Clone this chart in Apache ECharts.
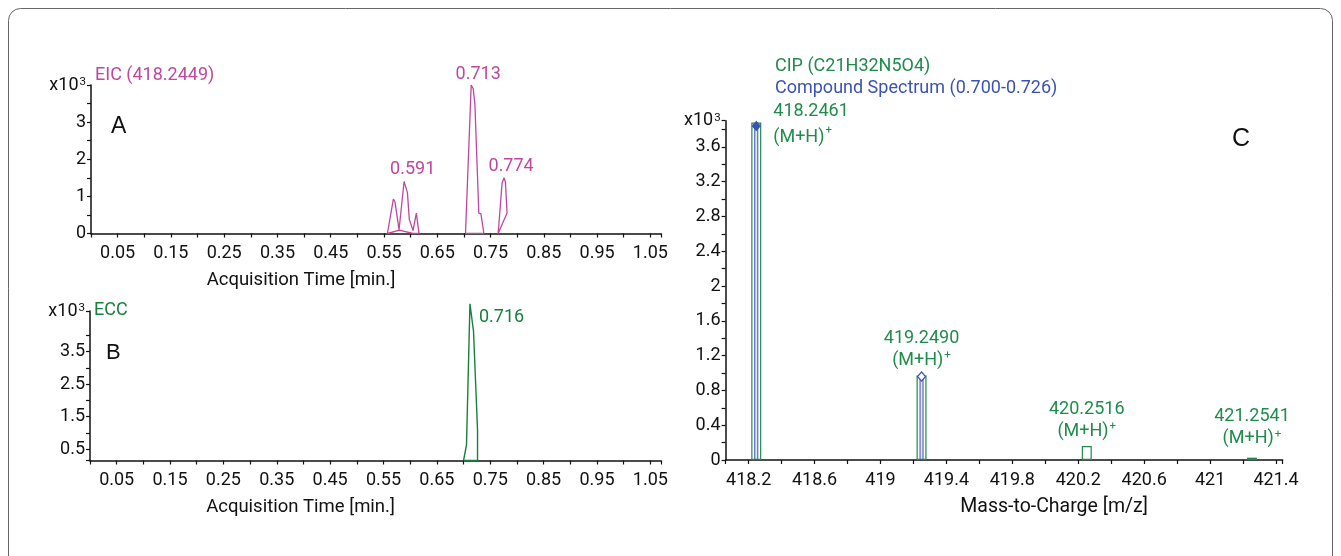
<!DOCTYPE html>
<html><head><meta charset="utf-8">
<script src="https://cdn.jsdelivr.net/npm/echarts@6/dist/echarts.min.js"></script>
<style>html,body{margin:0;padding:0;background:#fff}#c{width:1341px;height:556px}</style>
</head><body><div id="c"></div>
<script>
// ---------- Panel A: EIC (418.2449) ; time [min] vs counts (x10^3) ----------
const eicTime   = [0.5564,0.5677,0.5708,0.5783,0.5877,0.5908,0.5940,0.5975,0.6005,0.6045,0.6107,0.6144,0.6157,0.6045,0.5790,0.5564, null,
                   0.7030,0.7137,0.7175,0.7206,0.7280,0.7320,0.7375,0.7030, null,
                   0.7643,0.7717,0.7755,0.7780,0.7810,0.7643];
const eicCounts = [0,0.93,0.84,0.10,1.40,1.43,1.10,0.38,0.37,0.08,0.55,0.58,0,0,0.09,0, null,
                   0,4.00,3.90,3.50,0.55,0.53,0,0, null,
                   0,1.36,1.50,1.38,0.55,0];
const eicPeakTime   = [0.5908, 0.7137, 0.7755];
const eicPeakCounts = [1.43, 4.00, 1.50];
const eicPeakLabels = ['0.591', '0.713', '0.774'];

// ---------- Panel B: ECC ----------
const eccTime   = [0.7000,0.7055,0.7120,0.7187,0.7262,0.7262,0.7000];
const eccCounts = [0.15,0.63,4.97,4.12,1.09,0.15,0.15];
const eccPeakTime = [0.7120], eccPeakCounts = [4.97], eccPeakLabels = ['0.716'];

// ---------- Panel C: spectrum ----------
const cipMz    = [418.2461, 419.2490, 420.2516, 421.2541];
const cipAbund = [3.88, 0.97, 0.16, 0.027];
const cipLabels = ['418.2461', '419.2490', '420.2516', '421.2541'];
const ionLabel = '(M+H)';
const specMz    = [418.2461, 419.2490];
const specAbund = [3.84, 0.96];

const cipName  = 'CIP (C21H32N5O4)';
const specName = 'Compound Spectrum (0.700-0.726)';
const timeAxisName = 'Acquisition Time [min.]';
const mzAxisName   = 'Mass-to-Charge [m/z]';

// ---------- styles ----------
const magenta = '#c0479f', green = '#1f8c4b', eccGreen = '#17803f', blue = '#3b52b4', ink = '#111';
const FONT = 'Roboto';
const near = (a, b) => Math.abs(a - b) < 1e-6;
const x10 = '{a|x10}{s|3}';
const richX10 = { a: { fontFamily: FONT, fontSize: 18, color: ink }, s: { fontFamily: FONT, fontSize: 11.5, color: ink, verticalAlign: 'top', padding: [0, 0, 6, 1] } };

function axisBase(extra) {
  return Object.assign({
    type: 'value', scale: false,
    axisLine: { show: true, onZero: false, lineStyle: { color: ink, width: 1.5 } },
    axisTick: { show: true, length: 4, lineStyle: { color: ink, width: 1.2 } },
    splitLine: { show: false },
    nameTextStyle: { fontFamily: FONT, fontSize: 18.5, color: ink }
  }, extra);
}
function labelBase(fmt, extra) {
  return Object.assign({ color: ink, fontFamily: FONT, fontSize: 18, formatter: fmt, rich: richX10, showMinLabel: true, showMaxLabel: true }, extra);
}
const timeFmt = v => (Math.round(v * 100) % 10 === 5 && v < 1.06) ? v.toFixed(2) : '';

const lineData = (xs, ys) => xs.map((x, i) => (x === null ? ['-', '-'] : [x, ys[i]]));

const option = {
  animation: false,
  backgroundColor: '#fff',
  graphic: [{ type: 'rect', shape: { x: 8.5, y: 8.5, width: 1324, height: 600, r: 12 }, style: { fill: 'none', stroke: '#666', lineWidth: 1 }, silent: true }],
  title: [
    { text: 'EIC (418.2449)', left: 95, top: 66, padding: 0, textStyle: { fontFamily: FONT, fontSize: 18, fontWeight: 'normal', color: magenta } },
    { text: 'ECC', left: 94, top: 301, padding: 0, textStyle: { fontFamily: FONT, fontSize: 18, fontWeight: 'normal', color: eccGreen } },
    { text: 'A', left: 111, top: 115, padding: 0, textStyle: { fontFamily: 'Liberation Sans', fontSize: 23, fontWeight: 'normal', color: ink } },
    { text: 'B', left: 106, top: 342, padding: 0, textStyle: { fontFamily: 'Liberation Sans', fontSize: 22, fontWeight: 'normal', color: ink } },
    { text: 'C', left: 1232, top: 127, padding: 0, textStyle: { fontFamily: 'Liberation Sans', fontSize: 25, fontWeight: 'normal', color: ink } }
  ],
  legend: {
    orient: 'vertical', left: 770, top: 57, padding: 0, itemGap: 4, itemWidth: 0, itemHeight: 14, icon: 'none', selectedMode: false,
    textStyle: { fontFamily: FONT, fontSize: 18 },
    data: [{ name: cipName, textStyle: { color: green } }, { name: specName, textStyle: { color: blue } }]
  },
  grid: [
    { left: 91, top: 85, width: 570, height: 148.5, outerBoundsMode: 'none' },
    { left: 90, top: 311, width: 571, height: 149.5, outerBoundsMode: 'none' },
    { left: 725.6, top: 120.7, width: 557, height: 339.3, outerBoundsMode: 'none' }
  ],
  xAxis: [
    axisBase({ gridIndex: 0, min: 0, max: 1.07, interval: 0.05, name: timeAxisName, nameLocation: 'middle', nameGap: 37,
      nameTextStyle: { fontFamily: FONT, fontSize: 18.5, color: ink, padding: [0, 150, 0, 0] },
      axisLabel: labelBase(timeFmt, { margin: 11 }) }),
    axisBase({ gridIndex: 1, min: 0, max: 1.07, interval: 0.05, name: timeAxisName, nameLocation: 'middle', nameGap: 37,
      nameTextStyle: { fontFamily: FONT, fontSize: 18.5, color: ink, padding: [0, 150, 0, 0] },
      axisLabel: labelBase(timeFmt, { margin: 11 }) }),
    axisBase({ gridIndex: 2, min: 418.06, max: 421.44, splitNumber: 17, name: mzAxisName, nameLocation: 'middle', nameGap: 37,
      nameTextStyle: { fontFamily: FONT, fontSize: 19.5, color: ink, padding: [0, 0, 0, 100] },
      axisLabel: labelBase(v => { const k = (v - 418.2) / 0.4; return (near(k, Math.round(k)) && k > -0.01 && k < 8.01) ? String(+v.toFixed(1)) : ''; }, { margin: 11 }) }),
    axisBase({ gridIndex: 2, min: 418.06, max: 421.44, show: false })
  ],
  yAxis: [
    axisBase({ gridIndex: 0, min: 0, max: 4, interval: 0.5,
      axisLabel: labelBase(v => near(v, 4) ? x10 : (near(v, Math.round(v)) ? String(Math.round(v)) : ''), { margin: 5 }) }),
    axisBase({ gridIndex: 1, min: 0.15, max: 4.75, splitNumber: 9,
      axisLabel: labelBase(v => { if (v > 4.7) return x10; const k = v * 2; return (near(k, Math.round(k)) && Math.round(k) % 2 === 1) ? v.toFixed(1) : ''; }, { margin: 5 }) }),
    axisBase({ gridIndex: 2, min: 0, max: 3.9, interval: 0.2,
      axisLabel: labelBase(v => { if (v > 3.85) return x10; const k = v / 0.4; return near(k, Math.round(k)) ? String(+v.toFixed(1)) : ''; }, { margin: 5 }) })
  ],
  series: [
    { type: 'line', name: 'EIC', xAxisIndex: 0, yAxisIndex: 0, data: lineData(eicTime, eicCounts), symbol: 'none', connectNulls: false,
      lineStyle: { color: magenta, width: 1.3 }, silent: true },
    { type: 'scatter', xAxisIndex: 0, yAxisIndex: 0, symbolSize: 0, silent: true, clip: false, itemStyle: { opacity: 1 },
      data: eicPeakTime.map((t, i) => [t, eicPeakCounts[i]]),
      label: { show: true, opacity: 1, position: 'top', distance: 2, offset: [7, 0], color: magenta, fontFamily: FONT, fontSize: 18,
        formatter: p => eicPeakLabels[p.dataIndex] } },
    { type: 'line', name: 'ECC', xAxisIndex: 1, yAxisIndex: 1, data: lineData(eccTime, eccCounts), symbol: 'none', clip: false,
      lineStyle: { color: eccGreen, width: 1.4 }, silent: true },
    { type: 'scatter', xAxisIndex: 1, yAxisIndex: 1, symbolSize: 0, silent: true, clip: false, itemStyle: { opacity: 1 },
      data: eccPeakTime.map((t, i) => [t, eccPeakCounts[i]]),
      label: { show: true, opacity: 1, position: 'right', distance: 9, offset: [0, 14], color: eccGreen, fontFamily: FONT, fontSize: 18,
        formatter: p => eccPeakLabels[p.dataIndex] } },
    { type: 'bar', name: cipName, xAxisIndex: 2, yAxisIndex: 2, barWidth: 10, silent: true,
      itemStyle: { color: 'rgba(255,255,255,0)', borderColor: green, borderWidth: 1.2 },
      label: { show: true, position: 'top', distance: 4, color: green,
        formatter: p => '{n|' + cipLabels[p.dataIndex] + '}\n{n|' + ionLabel + '}{s|+}',
        rich: { n: { fontFamily: FONT, fontSize: 18, color: green, lineHeight: 22 }, s: { fontFamily: FONT, fontSize: 11.5, color: green, verticalAlign: 'top', lineHeight: 22, padding: [0, 0, 10, 1] } } },
      data: cipMz.map((m, i) => {
        const d = { value: [m, cipAbund[i]] };
        if (i === 0) d.label = { position: [22, -24],
          rich: { n: { fontFamily: FONT, fontSize: 18, color: green, lineHeight: 26 }, s: { fontFamily: FONT, fontSize: 11.5, color: green, verticalAlign: 'top', lineHeight: 26, padding: [0, 0, 12, 1] } } };
        if (i === cipMz.length - 1) d.label = { distance: 8 };
        return d;
      }) },
    { type: 'bar', name: specName, xAxisIndex: 3, yAxisIndex: 2, barWidth: 4, silent: true,
      itemStyle: { color: 'rgba(140,155,220,0.25)', borderColor: blue, borderWidth: 1 },
      data: specMz.map((m, i) => [m, specAbund[i]]) },
    { type: 'scatter', xAxisIndex: 2, yAxisIndex: 2, symbol: 'diamond', symbolSize: [8, 9], silent: true, clip: false, z: 5,
      data: specMz.map((m, i) => ({ value: [m, specAbund[i]],
        itemStyle: i === 0 ? { color: blue, borderColor: blue, borderWidth: 1, opacity: 1 } : { color: '#fff', borderColor: blue, borderWidth: 1.2, opacity: 1 } })) }
  ]
};
const chart = echarts.init(document.getElementById('c'), null, { renderer: 'canvas' });
chart.setOption(option);
</script>
</body></html>
